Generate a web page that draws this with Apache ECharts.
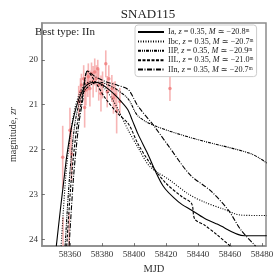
<!DOCTYPE html>
<html><head><meta charset="utf-8">
<script src="https://cdn.jsdelivr.net/npm/echarts@6/dist/echarts.min.js"></script>
<style>html,body{margin:0;padding:0;background:#fff}#c{width:280px;height:280px}</style>
</head><body><div id="c"></div>
<script>
// ---- data ----
const titleText = 'SNAD115';
const bestType = 'Best type: IIn';
const xTicks = [58360, 58380, 58400, 58420, 58440, 58460, 58480];
const yTicks = [20, 21, 22, 23, 24];
const obsMJD = [58355.5, 58355.7, 58359.5, 58360.0, 58361.0, 58365.5, 58366.6, 58367.2, 58368.6, 58369.2, 58370.0, 58371.2, 58371.5, 58372.5, 58373.5, 58374.5, 58375.5, 58376.5, 58377.4, 58378.0, 58379.4, 58380.4, 58382.4, 58383.3, 58384.3, 58386.2, 58387.2, 58388.2, 58389.2, 58391.2, 58422.5];
const obsMag = [22.17, 24.3, 24.4, 21.57, 22.1, 20.93, 20.71, 20.56, 20.42, 21.06, 20.67, 20.53, 20.38, 20.64, 20.31, 20.49, 20.27, 20.42, 20.2, 20.56, 20.75, 20.56, 20.09, 20.71, 20.42, 20.64, 20.85, 20.78, 21.14, 20.93, 20.64];
const obsErr = [0.7, 0.8, 1.0, 0.5, 0.6, 0.35, 0.3, 0.25, 0.3, 0.45, 0.35, 0.3, 0.3, 0.4, 0.25, 0.35, 0.3, 0.3, 0.2, 0.35, 0.4, 0.3, 0.3, 0.35, 0.3, 0.3, 0.35, 0.3, 0.5, 0.3, 0.28];
const typeNames = ['Ia', 'Ibc', 'IIP', 'IIL', 'IIn'];
const typeZ = ['0.35', '0.35', '0.35', '0.35', '0.35'];
const typeM = ['20.8', '20.7', '20.9', '21.0', '20.7'];
const curveIa = [[58351.5,24.15],[58354,23.35],[58356.5,22.6],[58358,22.15],[58361,21.5],[58364,21.05],[58367,20.75],[58370,20.58],[58373,20.51],[58376,20.5],[58380,20.55],[58385,20.68],[58390,20.85],[58396,21.1],[58399,21.35],[58402.5,21.65],[58408,22.05],[58418,22.8],[58428,23.17],[58436,23.35],[58444,23.53],[58452,23.66],[58469,23.92],[58483,23.92]];
const curveIbc = [[58354.5,24.15],[58357.4,22.6],[58360,21.75],[58363,21.1],[58366,20.75],[58369,20.57],[58373,20.48],[58377,20.5],[58382,20.65],[58386,20.85],[58390,21.1],[58396.6,21.58],[58402.5,21.95],[58410,22.38],[58422,22.67],[58434,22.99],[58444,23.17],[58455.5,23.32],[58467,23.46],[58483,23.47]];
const curveIIP = [[58357,24.15],[58359.8,22.6],[58363,21.45],[58366,20.95],[58370,20.65],[58375,20.52],[58379,20.5],[58384,20.56],[58390,20.68],[58396.6,20.88],[58402.5,21.25],[58413,21.47],[58438,21.76],[58473,22.09],[58483,22.3]];
const curveIIL = [[58358,24.15],[58361,22.6],[58364.5,21.45],[58367.5,20.9],[58371,20.25],[58376,20.5],[58382,20.85],[58390,21.2],[58396.6,21.43],[58402.5,21.87],[58410,22.3],[58420,22.75],[58430,23.05],[58436,23.2],[58438,23.55],[58444,23.68],[58452,23.9],[58461.5,24.19]];
const curveIIn = [[58359.5,24.15],[58362.3,22.6],[58365.5,21.45],[58368,20.9],[58371,20.25],[58376,20.38],[58382,20.48],[58390,20.57],[58396.6,20.67],[58402.5,21.03],[58412,21.45],[58422,21.94],[58435,22.56],[58448,22.92],[58459,23.35],[58467,23.8],[58476,24.15]];

// ---- chart ----
const serif = '"Liberation Serif", "DejaVu Serif", serif';
const curves = [curveIa, curveIbc, curveIIP, curveIIL, curveIIn];
const dashes = ['solid', [1, 1.5], [3, 1, 1, 1, 1, 1], [3, 1.5], [5, 1.5, 1, 1.5]];
const obs = obsMJD.map((x, i) => [x, obsMag[i], obsErr[i]]);

const lineSeries = typeNames.map((n, i) => ({
  name: n, type: 'line', data: curves[i], symbol: 'none', smooth: 0.3,
  lineStyle: { color: '#000', width: 1.1, type: dashes[i] },
  itemStyle: { color: '#000' }, z: 3, clip: true, silent: true
}));

const chart = echarts.init(document.getElementById('c'), null, { renderer: 'canvas' });
chart.setOption({
  animation: false,
  title: { text: titleText, left: 143, top: 3, textAlign: 'center',
    textStyle: { fontFamily: serif, fontSize: 13, fontWeight: 'normal', color: '#222' } },
  grid: { left: 28, right: 14, top: 23, bottom: 29, show: true, borderColor: '#8c8c8c', borderWidth: 1.5, containLabel: false },
  xAxis: {
    type: 'value', min: 58342.5, max: 58482.5,
    axisLine: { show: true, lineStyle: { color: '#8c8c8c', width: 1.5 } },
    axisTick: { show: true, inside: true, length: 3, customValues: xTicks, lineStyle: { color: '#555', width: 0.8 } },
    axisLabel: { customValues: xTicks, formatter: v => String(v), fontFamily: serif, fontSize: 9, color: '#333', margin: 4 },
    splitLine: { show: false },
    name: 'MJD', nameLocation: 'middle', nameGap: 17,
    nameTextStyle: { fontFamily: serif, fontSize: 10.5, color: '#333' }
  },
  yAxis: {
    type: 'value', inverse: true, min: 19.18, max: 24.15,
    axisLine: { show: true, lineStyle: { color: '#8c8c8c', width: 1.5 } },
    axisTick: { show: true, inside: true, length: 3, customValues: yTicks, lineStyle: { color: '#555', width: 0.8 } },
    axisLabel: { customValues: yTicks, formatter: v => String(v), fontFamily: serif, fontSize: 9, color: '#333', margin: 4 },
    splitLine: { show: false },
    name: 'magnitude, {i|zr}', nameLocation: 'middle', nameGap: 21, nameRotate: 90,
    nameTextStyle: { fontFamily: serif, fontSize: 10, color: '#333', rich: { i: { fontFamily: serif, fontSize: 10, fontStyle: 'italic', color: '#333' } } }
  },
  legend: {
    orient: 'vertical', left: 135, top: 25, data: typeNames,
    itemWidth: 26, itemHeight: 8, itemGap: 1.4,
    itemStyle: { opacity: 0, borderWidth: 0 },
    backgroundColor: '#fff', borderColor: '#ccc', borderWidth: 1, borderRadius: 3,
    padding: [3, 3, 3, 2],
    formatter: n => { const i = typeNames.indexOf(n); return n + ', {i|z} = ' + typeZ[i] + ', {i|M} \u2243 \u2212' + typeM[i] + '\u1D50'; },
    textStyle: { fontFamily: serif, fontSize: 8.2, color: '#222', padding: [0, 0, 0, -1],
      rich: { i: { fontFamily: serif, fontSize: 8.2, fontStyle: 'italic', color: '#222' } } }
  },
  graphic: [{ type: 'text', left: 35, top: 27, style: { text: bestType, font: '11px ' + serif, fill: '#222' } }],
  series: [
    { type: 'custom', name: 'err', data: obs, clip: true, z: 1, silent: true,
      encode: { x: 0, y: 1 },
      renderItem: (params, api) => {
        const x = api.value(0), y = api.value(1), e = api.value(2);
        const p1 = api.coord([x, y - e]), p2 = api.coord([x, y + e]);
        return { type: 'line', shape: { x1: p1[0], y1: p1[1], x2: p2[0], y2: p2[1] },
          style: { stroke: 'rgba(240,120,120,0.55)', lineWidth: 1.6 } };
      } },
    { type: 'scatter', name: 'pts', data: obs.map(o => [o[0], o[1]]), symbolSize: 3.5, clip: true, z: 2, silent: true,
      itemStyle: { color: 'rgba(238,110,110,0.85)' } },
    ...lineSeries
  ]
});
</script></body></html>
